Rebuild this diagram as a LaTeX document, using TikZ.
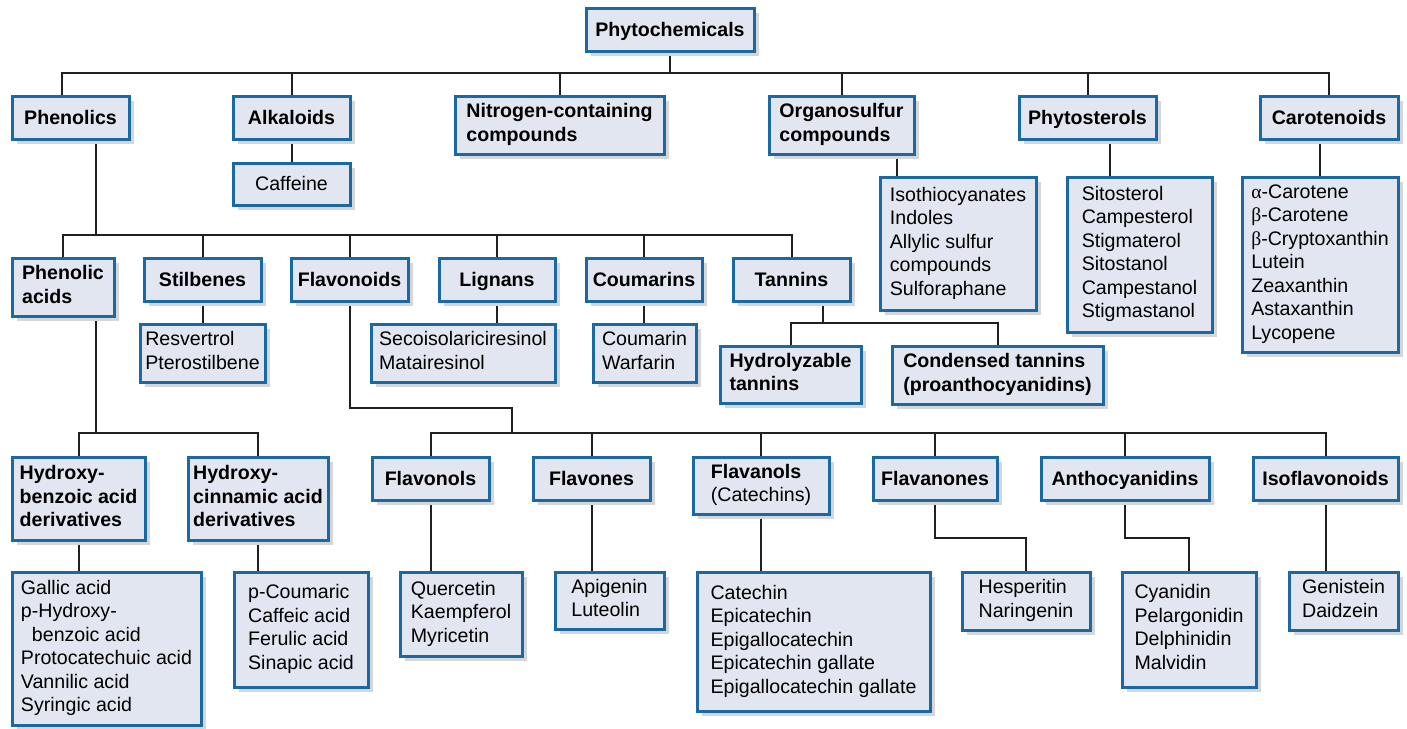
\documentclass[tikz,border=0pt]{standalone}
\usepackage{fontspec}
\setmainfont{Liberation Sans}
\newfontfamily\greekfont{Liberation Serif}
\usetikzlibrary{positioning,shadows,backgrounds}

\definecolor{boxblue}{HTML}{1B69A3}
\definecolor{boxfill}{HTML}{E1E6F0}
\definecolor{shadowgray}{HTML}{D6D6D9}
\definecolor{linegray}{HTML}{231F20}

\newcommand{\boxstrut}{\rule[-2.4pt]{0pt}{11.75pt}}

\begin{document}
\begin{tikzpicture}[
	x=0.5pt, y=-0.5pt,
	font=\fontsize{9.8}{11.75}\selectfont,
	chembox/.style={
		draw=boxblue, fill=boxfill, line width=1.5pt,
		align=left, inner sep=0pt,
		execute at begin node=\boxstrut, execute at end node=\boxstrut,
		drop shadow={shadow xshift=2.25pt, shadow yshift=-2.25pt, fill=shadowgray, opacity=1}
	},
	head/.style={chembox, font=\fontsize{9.8}{11.75}\selectfont\bfseries},
	list/.style={chembox},
	size/.style 2 args={minimum width=#1pt, minimum height=#2pt},
	link/.style={draw=linegray, line width=1pt},
	]

	\useasboundingbox (0,0) rectangle (1407,728);

	% top level
	\node[head, size={84}{21.5}] (phyto) at (670,29.5) {Phytochemicals};

	\node[head, size={58.5}{21.5}] (phenolics) at (70.5,117.5) {Phenolics};
	\node[head, size={58.5}{21.5}] (alkaloids) at (291.5,117.5) {Alkaloids};
	\node[head, size={104.5}{29}] (nitrogen) at (559.5,125) {Nitrogen-containing\\compounds};
	\node[head, size={72.5}{29}] (organo) at (841.5,125) {Organosulfur\\compounds};
	\node[head, size={68.5}{21.5}] (phytost) at (1087.5,117.5) {Phytosterols};
	\node[head, size={69}{21.5}] (carot) at (1329,117.5) {Carotenoids};

	\node[list, size={58.5}{21}] (caffeine) at (291.5,184) {Caffeine};
	\node[list, size={78}{66.5}] (sulfurlist) at (958,243.5) {Isothiocyanates\\Indoles\\Allylic sulfur\\compounds\\Sulforaphane};
	\node[list, size={72.5}{77.5}] (sterollist) at (1139.5,254.5) {Sitosterol\\Campesterol\\Stigmaterol\\Sitostanol\\Campestanol\\Stigmastanol};
	\node[list, size={78}{87.5}] (carotlist) at (1320,264.5) {{\greekfont α}-Carotene\\{\greekfont β}-Carotene\\{\greekfont β}-Cryptoxanthin\\Lutein\\Zeaxanthin\\Astaxanthin\\Lycopene};

	% phenolics
	\node[head, size={51}{29}] (phenacids) at (63,287) {Phenolic\\acids};
	\node[head, size={58.5}{21.5}] (stilbenes) at (202.5,279.5) {Stilbenes};
	\node[head, size={58.5}{21.5}] (flavonoids) at (349.5,279.5) {Flavonoids};
	\node[head, size={58}{21.5}] (lignans) at (497,279.5) {Lignans};
	\node[head, size={58}{21.5}] (coumarins) at (644,279.5) {Coumarins};
	\node[head, size={58.5}{21.5}] (tannins) at (791.5,279.5) {Tannins};

	\node[list, size={62.5}{29}] (stilblist) at (202.5,353) {Resvertrol\\Pterostilbene};
	\node[list, size={92}{29}] (lignlist) at (463,353) {Secoisolariciresinol\\Matairesinol};
	\node[list, size={51.5}{29}] (coumlist) at (644.5,353) {Coumarin\\Warfarin};
	\node[head, size={70.5}{28.5}] (hydrolyz) at (790.5,374.5) {Hydrolyzable\\tannins};
	\node[head, size={105.5}{29}] (condensed) at (997.5,375) {Condensed tannins\\(proanthocyanidins)};

	% phenolic acids
	\node[head, size={66.5}{41.5}] (hbenz) at (78.5,498.5) {Hydroxy-\\benzoic acid\\derivatives};
	\node[head, size={70}{41.5}] (hcinn) at (258,498.5) {Hydroxy-\\cinnamic acid\\derivatives};
	\node[list, size={94.5}{76.5}] (hbenzlist) at (106.5,648.5) {Gallic acid\\p-Hydroxy-\\\hspace*{5.5pt}benzoic acid\\Protocatechuic acid\\Vannilic acid\\Syringic acid};
	\node[list, size={67}{57.5}] (hcinnlist) at (301,629.5) {p-Coumaric\\Caffeic acid\\Ferulic acid\\Sinapic acid};

	% flavonoids
	\node[head, size={58.5}{21.5}] (flavonols) at (430.5,478.5) {Flavonols};
	\node[head, size={58.5}{21.5}] (flavones) at (591.5,478.5) {Flavones};
	\node[chembox, size={68}{28.5}] (flavanols) at (761,485.5) {\textbf{Flavanols}\\(Catechins)};
	\node[head, size={62}{21.5}] (flavanones) at (935,478.5) {Flavanones};
	\node[head, size={84}{21.5}] (antho) at (1125,478.5) {Anthocyanidins};
	\node[head, size={72.5}{21.5}] (isofl) at (1325.5,478.5) {Isoflavonoids};

	\node[list, size={61}{42}] (flavonolist) at (461,614) {Quercetin\\Kaempferol\\Myricetin};
	\node[list, size={54.5}{28.5}] (flavonelist) at (609.5,600.5) {Apigenin\\Luteolin};
	\node[list, size={116.5}{69.5}] (flavanolist) at (813.5,641.5) {Catechin\\Epicatechin\\Epigallocatechin\\Epicatechin gallate\\Epigallocatechin gallate};
	\node[list, size={64}{29}] (flavanonelist) at (1026,601) {Hesperitin\\Naringenin};
	\node[list, size={67}{57.5}] (antholist) at (1189,629.5) {Cyanidin\\Pelargonidin\\Delphinidin\\Malvidin};
	\node[list, size={54.5}{29}] (isofllist) at (1343.5,601) {Genistein\\Daidzein};

	% forks
	\coordinate (topfork) at (670,73);
	\coordinate (phenfork) at (96,235);
	\coordinate (acidfork) at (96,433);
	\coordinate (tanninfork) at (823,323);
	\coordinate (flavfork) at (512,433);
	\coordinate (lowbus) at (0,538);
	\coordinate (sulfurdrop) at (897,0);
	\coordinate (steroldrop) at (1110,0);

	\begin{scope}[on background layer]
	\draw[link] (phyto) -- (topfork);
	\draw[link] (topfork) -| ([xshift=-4.25pt]phenolics.north);
	\draw[link] (topfork) -| (alkaloids);
	\draw[link] (topfork) -| (nitrogen);
	\draw[link] (topfork) -| (organo);
	\draw[link] (topfork) -| (phytost);
	\draw[link] (topfork) -| (carot);

	\draw[link] (alkaloids) -- (caffeine);
	\draw[link] (organo.south -| sulfurdrop) -- (sulfurlist.north -| sulfurdrop);
	\draw[link] (phytost.south -| steroldrop) -- (sterollist.north -| steroldrop);
	\draw[link] (carotlist) -- (carotlist |- carot.south);

	\draw[link] (phenolics.south -| phenfork) -- (phenfork);
	\draw[link] (phenfork) -| (phenacids);
	\draw[link] (phenfork) -| (stilbenes);
	\draw[link] (phenfork) -| (flavonoids);
	\draw[link] (phenfork) -| (lignans);
	\draw[link] (phenfork) -| (coumarins);
	\draw[link] (phenfork) -| (tannins);

	\draw[link] (stilbenes) -- (stilbenes |- stilblist.north);
	\draw[link] (lignans) -- (lignans |- lignlist.north);
	\draw[link] (coumarins) -- (coumarins |- coumlist.north);
	\draw[link] (tannins.south -| tanninfork) -- (tanninfork);
	\draw[link] (tanninfork) -| (hydrolyz);
	\draw[link] (tanninfork) -| (condensed);

	\draw[link] (phenacids.south -| acidfork) -- (acidfork);
	\draw[link] (acidfork) -| (hbenz);
	\draw[link] (acidfork) -| (hcinn);
	\draw[link] (hbenz) -- (hbenz |- hbenzlist.north);
	\draw[link] (hcinn) -- (hcinn |- hcinnlist.north);

	\draw[link] (flavonoids) |- ([yshift=12.5pt]flavfork) -- (flavfork);
	\draw[link] (flavfork) -| (flavonols);
	\draw[link] (flavfork) -| (flavones);
	\draw[link] (flavfork) -| (flavanols);
	\draw[link] (flavfork) -| (flavanones);
	\draw[link] (flavfork) -| (antho);
	\draw[link] (flavfork) -| (isofl);

	\draw[link] (flavonols) -- (flavonols |- flavonolist.north);
	\draw[link] (flavones) -- (flavones |- flavonelist.north);
	\draw[link] (flavanols) -- (flavanols |- flavanolist.north);
	\draw[link] (flavanones) |- (flavanonelist.north |- lowbus) -- (flavanonelist);
	\draw[link] (antho) |- (antholist.north |- lowbus) -- (antholist);
	\draw[link] (isofl) -- (isofl |- isofllist.north);
	\end{scope}

\end{tikzpicture}
\end{document}
